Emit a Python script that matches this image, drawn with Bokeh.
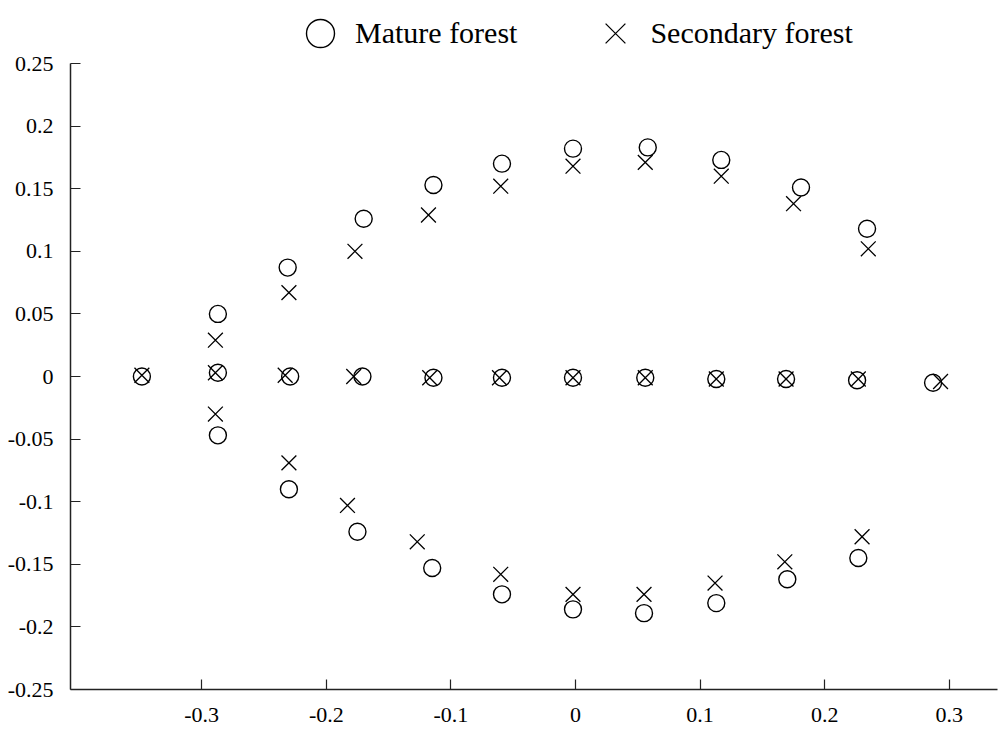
from bokeh.plotting import figure
from bokeh.models import Range1d, FixedTicker, Legend, LegendItem, ColumnDataSource
from bokeh.embed import file_html
from bokeh.resources import INLINE

# Mature forest (circles)
mature_x = [-0.348, -0.287, -0.287, -0.287, -0.231, -0.229, -0.230, -0.170, -0.171, -0.175,
            -0.114, -0.114, -0.115, -0.059, -0.059, -0.059, -0.002, -0.002, -0.002, 0.058,
            0.056, 0.055, 0.117, 0.113, 0.113, 0.181, 0.169, 0.170, 0.234, 0.226, 0.227, 0.287]
mature_y = [0.000, 0.050, 0.003, -0.047, 0.087, 0.000, -0.090, 0.126, 0.000, -0.124,
            0.153, -0.001, -0.153, 0.170, -0.001, -0.174, 0.182, -0.001, -0.186, 0.183,
            -0.001, -0.189, 0.173, -0.002, -0.181, 0.151, -0.002, -0.162, 0.118, -0.003, -0.145, -0.005]

# Secondary forest (crosses)
secondary_x = [-0.348, -0.289, -0.289, -0.289, -0.230, -0.233, -0.230, -0.177, -0.178, -0.183,
               -0.118, -0.117, -0.127, -0.060, -0.061, -0.060, -0.002, -0.002, -0.002, 0.056,
               0.056, 0.055, 0.117, 0.113, 0.112, 0.175, 0.169, 0.168, 0.235, 0.227, 0.230, 0.293]
secondary_y = [0.001, 0.029, 0.003, -0.030, 0.067, 0.001, -0.069, 0.100, 0.000, -0.103,
               0.129, -0.001, -0.132, 0.152, -0.001, -0.158, 0.168, -0.001, -0.174, 0.171,
               -0.001, -0.174, 0.160, -0.002, -0.165, 0.138, -0.002, -0.148, 0.102, -0.002, -0.128, -0.004]

x_ticks = [-0.3, -0.2, -0.1, 0.0, 0.1, 0.2, 0.3]
x_tick_labels = ["-0.3", "-0.2", "-0.1", "0", "0.1", "0.2", "0.3"]
y_ticks = [-0.25, -0.2, -0.15, -0.1, -0.05, 0.0, 0.05, 0.1, 0.15, 0.2, 0.25]
y_tick_labels = ["-0.25", "-0.2", "-0.15", "-0.1", "-0.05", "0", "0.05", "0.1", "0.15", "0.2", "0.25"]

FONT = "Liberation Serif"

# frame spans the full height above the x axis so the legend is not clipped;
# the y axis itself is bounded to [-0.25, 0.25]
y_top = 0.25 + 63.0 / 1252.0

p = figure(width=998, height=734, output_backend="svg", toolbar_location=None,
           x_range=Range1d(-0.4053, 0.3387), y_range=Range1d(-0.25, y_top),
           min_border_left=70, min_border_right=1, min_border_top=0, min_border_bottom=45)
p.outline_line_color = None
p.xgrid.visible = False
p.ygrid.visible = False
p.background_fill_color = "white"
p.border_fill_color = "white"

for ax, ticks, labels in ((p.xaxis[0], x_ticks, x_tick_labels), (p.yaxis[0], y_ticks, y_tick_labels)):
    ax.ticker = FixedTicker(ticks=ticks)
    ax.major_label_overrides = {t: l for t, l in zip(ticks, labels)}
    ax.major_tick_in = 10
    ax.major_tick_out = 0
    ax.minor_tick_line_color = None
    ax.axis_line_color = "#222222"
    ax.axis_line_width = 1.5
    ax.major_tick_line_color = "#222222"
    ax.major_tick_line_width = 1.2
    ax.major_label_text_font = FONT
    ax.major_label_text_font_size = "22px"
    ax.major_label_text_color = "black"

p.yaxis[0].bounds = (-0.25, 0.25)
p.yaxis[0].major_label_standoff = 17
p.xaxis[0].major_label_standoff = 18

src_m = ColumnDataSource(dict(x=mature_x, y=mature_y))
src_s = ColumnDataSource(dict(x=secondary_x, y=secondary_y))

r1 = p.scatter("x", "y", source=src_m, marker="circle", size=17,
               fill_color=None, line_color="black", line_width=1.4)
r2 = p.scatter("x", "y", source=src_s, marker="x", size=21,
               line_color="black", line_width=1.3)

legend = Legend(items=[LegendItem(label="Mature forest", renderers=[r1]),
                       LegendItem(label="Secondary forest", renderers=[r2])],
                orientation="horizontal", location=(215, 618),
                glyph_width=70, glyph_height=76, label_standoff=0, spacing=63,
                padding=0, margin=0, border_line_color=None, background_fill_alpha=0,
                label_text_font=FONT, label_text_font_size="30px", label_text_color="black")
p.add_layout(legend, "center")

open("out.html", "w").write(file_html(p, INLINE))
